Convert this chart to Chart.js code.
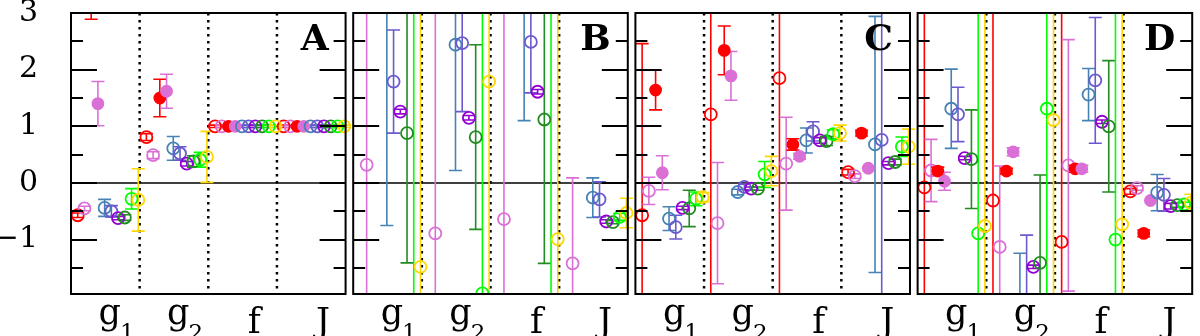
<!DOCTYPE html>
<html>
<head>
<meta charset="utf-8">
<script src="https://cdn.jsdelivr.net/npm/chart.js@4.4.1/dist/chart.umd.min.js"></script>
<style>
  html, body { margin: 0; padding: 0; background: #fff; }
</style>
</head>
<body>
<canvas id="fitChart" width="1200" height="336"></canvas>
<script>
// categories on the x axis of every panel ("_" = subscript)
const categories = ['g_1', 'g_2', 'f', 'J'];
const panelNames = ['A', 'B', 'C', 'D'];

const yTickValues = [-1.5, -1, -0.5, 0, 0.5, 1, 1.5, 2, 2.5, 3];
const yLabelValues = [-1, 0, 1, 2, 3];
const yLabelText = ['−1', '0', '1', '2', '3'];

const seriesNames = ['red open', 'violet open', 'red filled', 'violet filled', 'steelblue',
  'slateblue', 'darkviolet', 'forestgreen', 'lime', 'gold'];
const seriesColors = ['#ff0000', '#da70d6', '#ff0000', '#da70d6', '#4682b4',
  '#6a5acd', '#9400d3', '#228b22', '#00ff00', '#ffd700'];
const seriesFilled = [false, false, true, true, false, false, false, false, false, false];

// rows = series, columns = categories (g1, g2, f, J)
const valuesA = [
  [-0.57, 0.81, 1, 1],
  [-0.45, 0.49, 1, 1],
  [3.4, 1.5, 1, 1],
  [1.4, 1.62, 1, 1],
  [-0.44, 0.61, 1, 1],
  [-0.5, 0.52, 1, 1],
  [-0.62, 0.34, 1, 1],
  [-0.61, 0.38, 1, 1],
  [-0.28, 0.41, 1, 1],
  [-0.3, 0.46, 1, 1]
];
const errorsA = [
  [0.04, 0.06, 0.02, 0.02],
  [0.04, 0.06, 0.02, 0.02],
  [0.51, 0.33, 0, 0],
  [0.39, 0.3, 0, 0],
  [0.15, 0.21, 0.02, 0.02],
  [0.1, 0.12, 0.02, 0.02],
  [0.03, 0.04, 0.02, 0.02],
  [0.05, 0.1, 0.02, 0.02],
  [0.18, 0.13, 0.02, 0.02],
  [0.55, 0.45, 0.02, 0.02]
];

const valuesB = [
  [null, null, null, null],
  [0.32, -0.89, -0.64, -1.42],
  [null, null, null, null],
  [null, null, null, null],
  [3.3, 2.44, 3.3, -0.26],
  [1.79, 2.47, 2.49, -0.29],
  [1.26, 1.15, 1.61, -0.68],
  [0.88, 0.81, 1.12, -0.69],
  [-2.5, -1.95, -2.5, -0.6],
  [-1.48, 1.79, -0.99, -0.53]
];
const errorsB = [
  [0, 0, 0, 0],
  [10, 10, 10, 1.51],
  [0, 0, 0, 0],
  [0, 0, 0, 0],
  [4.05, 2.22, 2.2, 0.35],
  [0.91, 1.21, 0.9, 0.31],
  [0.04, 0.04, 0.04, 0.03],
  [2.29, 1.63, 2.54, 0.03],
  [10, 10, 10, 0.06],
  [10, 10, 10, 0.26]
];

const valuesC = [
  [-0.57, 1.21, 1.85, 0.19],
  [-0.14, -0.71, 0.34, 0.12],
  [1.64, 2.34, 0.68, 0.88],
  [0.18, 1.89, 0.47, 0.26],
  [-0.63, -0.16, 0.75, 0.68],
  [-0.78, -0.07, 0.91, 0.76],
  [-0.44, -0.1, 0.75, 0.35],
  [-0.45, -0.1, 0.74, 0.37],
  [-0.28, 0.15, 0.86, 0.64],
  [-0.25, 0.21, 0.88, 0.64]
];
const errorsC = [
  [3.03, 10, 10, 0.05],
  [0.24, 1.07, 0.82, 0.04],
  [0.35, 0.43, 0.1, 0.05],
  [0.3, 0.43, 0.05, 0],
  [0.21, 0.05, 0.22, 2.26],
  [0.21, 0.05, 0.17, 10],
  [0.03, 0.03, 0.05, 0.03],
  [0.32, 0.03, 0.08, 0.05],
  [0.12, 0.23, 0.08, 0.17],
  [0.08, 0.26, 0.14, 0.31]
];

const valuesD = [
  [-0.08, -0.31, -1.04, -0.15],
  [0.22, -1.13, 0.31, -0.09],
  [0.21, 0.21, 0.25, -0.89],
  [0.03, 0.55, 0.25, -0.31],
  [1.31, -2.3, 1.56, -0.17],
  [1.21, -2.2, 1.81, -0.21],
  [0.44, -1.48, 1.08, -0.41],
  [0.42, -1.41, 1.0, -0.39],
  [-0.89, 1.31, -1.0, -0.38],
  [-0.76, 1.11, -0.73, -0.35]
];
const errorsD = [
  [10, 10, 10, 0.05],
  [0.55, 1.43, 2.22, 0.04],
  [0.07, 0.05, 0.06, 0.06],
  [0.16, 0.07, 0.06, 0],
  [0.7, 1.06, 0.46, 0.32],
  [0.48, 1.28, 1.11, 0.29],
  [0.03, 0.03, 0.03, 0.05],
  [0.87, 1.55, 1.16, 0.04],
  [10, 10, 10, 0.04],
  [10, 10, 10, 0.15]
];

const panelValues = [valuesA, valuesB, valuesC, valuesD];
const panelErrors = [errorsA, errorsB, errorsC, errorsD];

// x layout: each panel is 4 category units wide, panels separated by a small gap
const PANEL_STEP = 4.111;
const SLOT = 0.098;
const LABEL_POS = 0.67;
const CAP = 6.5;

const datasets = seriesNames.map((name, i) => {
  const data = [];
  panelValues.forEach((vals, p) => {
    vals[i].forEach((v, c) => {
      if (v === null) return;
      data.push({ x: p * PANEL_STEP + c + (i + 1) * SLOT, y: v, err: panelErrors[p][i][c] });
    });
  });
  return {
    label: name,
    data: data,
    order: -i,
    borderColor: seriesColors[i],
    backgroundColor: seriesFilled[i] ? seriesColors[i] : 'rgba(0,0,0,0)',
    pointRadius: seriesFilled[i] ? 5.5 : 6,
    pointBorderWidth: 1.8,
    pointHoverRadius: 6,
    showLine: false,
    clip: 0
  };
});

function panelEdges(x, p) {
  return [x.getPixelForValue(p * PANEL_STEP), x.getPixelForValue(p * PANEL_STEP + 4)];
}

const panelPlugin = {
  id: 'panels',
  beforeDatasetsDraw(chart) {
    const { ctx, chartArea: a, scales: { x, y } } = chart;
    ctx.save();
    ctx.beginPath();
    ctx.rect(a.left, a.top, a.right - a.left, a.bottom - a.top);
    ctx.clip();
    const y0 = Math.round(y.getPixelForValue(0));
    panelNames.forEach((n, p) => {
      const [left, right] = panelEdges(x, p);
      ctx.strokeStyle = '#000';
      ctx.lineWidth = 1.3;
      ctx.setLineDash([]);
      ctx.beginPath();
      ctx.moveTo(left, y0);
      ctx.lineTo(right, y0);
      ctx.stroke();
      ctx.lineWidth = 2.5;
      ctx.setLineDash([2.5, 4.5]);
      ctx.beginPath();
      for (let c = 1; c < 4; c++) {
        const px = x.getPixelForValue(p * PANEL_STEP + c);
        ctx.moveTo(px, a.top);
        ctx.lineTo(px, a.bottom);
      }
      ctx.stroke();
    });
    // error bars
    ctx.setLineDash([]);
    ctx.lineWidth = 1.6;
    chart.data.datasets.forEach(ds => {
      ctx.strokeStyle = ds.borderColor;
      ds.data.forEach(pt => {
        const px = x.getPixelForValue(pt.x);
        const lo = y.getPixelForValue(pt.y - pt.err);
        const hi = y.getPixelForValue(pt.y + pt.err);
        ctx.beginPath();
        ctx.moveTo(px, lo);
        ctx.lineTo(px, hi);
        ctx.moveTo(px - CAP, lo);
        ctx.lineTo(px + CAP, lo);
        ctx.moveTo(px - CAP, hi);
        ctx.lineTo(px + CAP, hi);
        ctx.stroke();
      });
    });
    ctx.restore();
  },
  afterDraw(chart) {
    const { ctx, chartArea: a, scales: { x, y } } = chart;
    ctx.save();
    panelNames.forEach((name, p) => {
      const [left, right] = panelEdges(x, p);
      ctx.strokeStyle = '#000';
      ctx.lineWidth = 2;
      ctx.beginPath();
      yTickValues.forEach(v => {
        const py = Math.round(y.getPixelForValue(v));
        const len = Number.isInteger(v) ? 26 : 12;
        ctx.moveTo(left, py);
        ctx.lineTo(left + len, py);
        ctx.moveTo(right, py);
        ctx.lineTo(right - len, py);
      });
      ctx.stroke();
      ctx.strokeRect(left, a.top, right - left, a.bottom - a.top);

      ctx.fillStyle = '#000';
      ctx.font = 'bold 36px "DejaVu Serif"';
      ctx.textAlign = 'right';
      ctx.textBaseline = 'alphabetic';
      ctx.fillText(name, right - 17, 50);

      // category labels with subscripts
      ctx.textAlign = 'left';
      categories.forEach((cat, c) => {
        const cx = x.getPixelForValue(p * PANEL_STEP + c + LABEL_POS);
        const parts = cat.split('_');
        const main = parts[0], sub = parts[1] || '';
        ctx.font = '35px "DejaVu Serif"';
        const mw = ctx.measureText(main).width;
        ctx.font = '23px "DejaVu Serif"';
        const sw = sub ? ctx.measureText(sub).width : 0;
        const start = cx - (mw + sw) / 2;
        const base = sub ? 324 : 333;
        ctx.font = '35px "DejaVu Serif"';
        ctx.fillText(main, start, base);
        if (sub) {
          ctx.font = '23px "DejaVu Serif"';
          ctx.fillText(sub, start + mw - 1, base + 16);
        }
      });
    });
    ctx.restore();
  }
};

Chart.defaults.font.family = '"DejaVu Serif"';

new Chart(document.getElementById('fitChart'), {
  type: 'scatter',
  data: { datasets: datasets },
  options: {
    responsive: false,
    animation: false,
    devicePixelRatio: 1,
    layout: { padding: { top: 13, right: 2, bottom: 42, left: 0 } },
    plugins: { legend: { display: false }, tooltip: { enabled: false } },
    scales: {
      x: { type: 'linear', display: false, min: 0, max: 3 * PANEL_STEP + 4 },
      y: {
        type: 'linear',
        min: -1.96,
        max: 3,
        grid: { display: false },
        border: { display: false },
        afterBuildTicks: s => { s.ticks = yTickValues.map(v => ({ value: v })); },
        afterFit: s => { s.width = 71; s.paddingTop = 0; s.paddingBottom = 0; },
        ticks: {
          padding: 25,
          color: '#000',
          autoSkip: false,
          font: { size: 30, family: '"DejaVu Serif"' },
          callback: v => {
            const k = yLabelValues.indexOf(v);
            return k < 0 ? '' : yLabelText[k];
          }
        }
      }
    }
  },
  plugins: [panelPlugin]
});
</script>
</body>
</html>
